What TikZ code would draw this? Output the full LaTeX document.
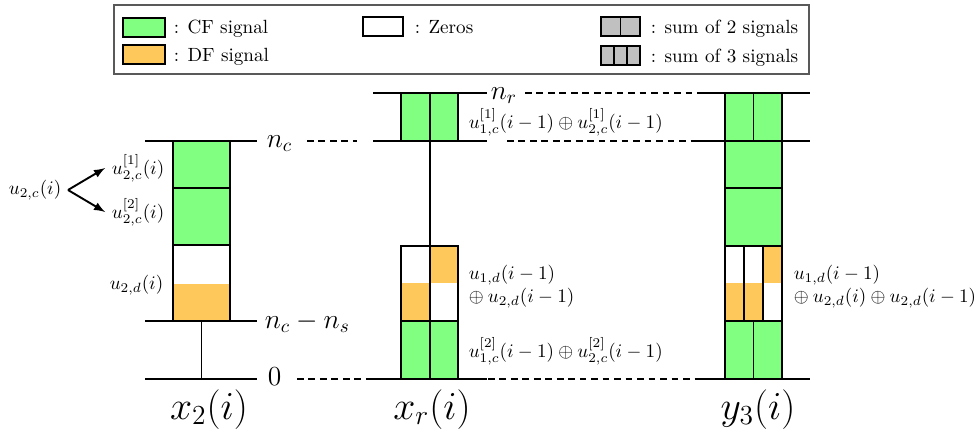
\documentclass[tikz,border=0pt]{standalone}
\usepackage{amsmath}
\definecolor{cfgreen}{RGB}{128,255,128}
\definecolor{dforange}{RGB}{255,200,90}
\definecolor{sumgray}{RGB}{192,192,192}
\tikzset{
  lvl/.style={line width=1pt},
  blk/.style={draw, line width=1pt},
  guide/.style={line width=0.9pt, dash pattern=on 3.5pt off 2.5pt},
  arr/.style={-latex, line width=1pt},
}
\begin{document}
\begin{tikzpicture}[x=0.523pt,y=-0.523pt]
\useasboundingbox (0,0) rectangle (976,430);

\draw [gray!70!black, line width=0.6pt] (114,5) rectangle (809,74);
\draw [blk, fill=cfgreen] (123,18) rectangle (165,37);
\draw [blk, fill=dforange] (123,45) rectangle (165,64);
\draw [blk] (363,17) rectangle (403,36);
\draw [blk, fill=sumgray] (601,17) rectangle (640,36);
\draw [blk] (620.5,17) -- (620.5,36);
\draw [blk, fill=sumgray] (601,46) rectangle (640,65);
\draw [blk] (614,46) -- (614,65);
\draw [blk] (627,46) -- (627,65);
\node [anchor=base west] (lcf) at (167,33) {: CF signal};
\node [anchor=base west] (ldf) at (167,61) {: DF signal};
\node [anchor=base west] (lzero) at (408,33) {: Zeros};
\node [anchor=base west] (lsum2) at (644,33) {: sum of 2 signals};
\node [anchor=base west] (lsum3) at (644,62) {: sum of 3 signals};

\fill [cfgreen] (173,141) rectangle (230,245);
\fill [dforange] (173,284) rectangle (230,321);
\draw [blk] (173,141) rectangle (230,188);
\draw [blk] (173,188) rectangle (230,245);
\draw [blk] (173,245) rectangle (230,321);
\draw [lvl] (201.5,321) -- (201.5,379);
\draw [lvl] (145,141) -- (257,141);
\draw [lvl] (145,321) -- (257,321);
\draw [lvl] (145,379) -- (257,379);

\fill [cfgreen] (401,93) rectangle (458,141);
\fill [dforange] (401,283) rectangle (430,321);
\fill [dforange] (430,246) rectangle (458,283);
\fill [cfgreen] (401,321) rectangle (458,379);
\draw [blk] (401,93) rectangle (458,141);
\draw [blk] (401,246) rectangle (458,379);
\draw [blk] (401,321) -- (458,321);
\draw [blk] (430,93) -- (430,379);
\draw [lvl] (373,93) -- (487,93);
\draw [lvl] (373,141) -- (487,141);
\draw [lvl] (373,379) -- (487,379);

\fill [cfgreen] (725,93) rectangle (782,246);
\fill [dforange] (725,283) rectangle (763,321);
\fill [dforange] (763,246) rectangle (782,283);
\fill [cfgreen] (725,321) rectangle (782,379);
\draw [blk] (725,93) rectangle (782,379);
\draw [blk] (725,141) -- (782,141);
\draw [blk] (725,188) -- (782,188);
\draw [blk] (725,246) -- (782,246);
\draw [blk] (725,321) -- (782,321);
\draw [blk] (753.5,93) -- (753.5,141);
\draw [blk] (753.5,321) -- (753.5,379);
\draw [blk] (744,246) -- (744,321);
\draw [blk] (763,246) -- (763,321);
\draw [lvl] (697,93) -- (810,93);
\draw [lvl] (697,141) -- (810,141);
\draw [lvl] (697,379) -- (810,379);

\draw [guide] (307,141) -- (357,141);
\draw [guide] (297,379) -- (373,379);
\draw [guide] (525,93) -- (697,93);
\draw [guide] (507,141) -- (697,141);
\draw [guide] (488,379) -- (697,379);

\node [anchor=base west] (nc) at (260,147) {\Large $n_c$};
\node [anchor=base west] (ncns) at (258,328) {\Large $n_c-n_s$};
\node [anchor=base west] (zero) at (261,385) {\Large $0$};
\node [anchor=base west] (nr) at (484,99) {\Large $n_r$};

\node [anchor=east] (u2c) at (68,190) {$u_{2,c}(i)$};
\node [anchor=east] (u2c1) at (171,168) {$u^{[1]}_{2,c}(i)$};
\node [anchor=east] (u2c2) at (171,212) {$u^{[2]}_{2,c}(i)$};
\node [anchor=east] (u2d) at (170,285) {$u_{2,d}(i)$};
\draw [arr] (u2c.east) -- (u2c1.west);
\draw [arr] (u2c.east) -- (u2c2.west);

\node [anchor=west] (xrtop) at (462,122) {$u^{[1]}_{1,c}(i-1)\oplus u^{[1]}_{2,c}(i-1)$};
\node [anchor=west, align=left] (xrd) at (462,287) {$u_{1,d}(i-1)$\\$\oplus\: u_{2,d}(i-1)$};
\node [anchor=west] (xrbot) at (462,351) {$u^{[2]}_{1,c}(i-1)\oplus u^{[2]}_{2,c}(i-1)$};
\node [anchor=west, align=left] (y3d) at (787,287) {$u_{1,d}(i-1)$\\$\oplus\: u_{2,d}(i)\oplus u_{2,d}(i-1)$};

\node [anchor=base] (x2) at (209,419) {\huge $x_2(i)$};
\node [anchor=base] (xr) at (432,419) {\huge $x_r(i)$};
\node [anchor=base] (y3) at (758,419) {\huge $y_3(i)$};
\end{tikzpicture}
\end{document}
